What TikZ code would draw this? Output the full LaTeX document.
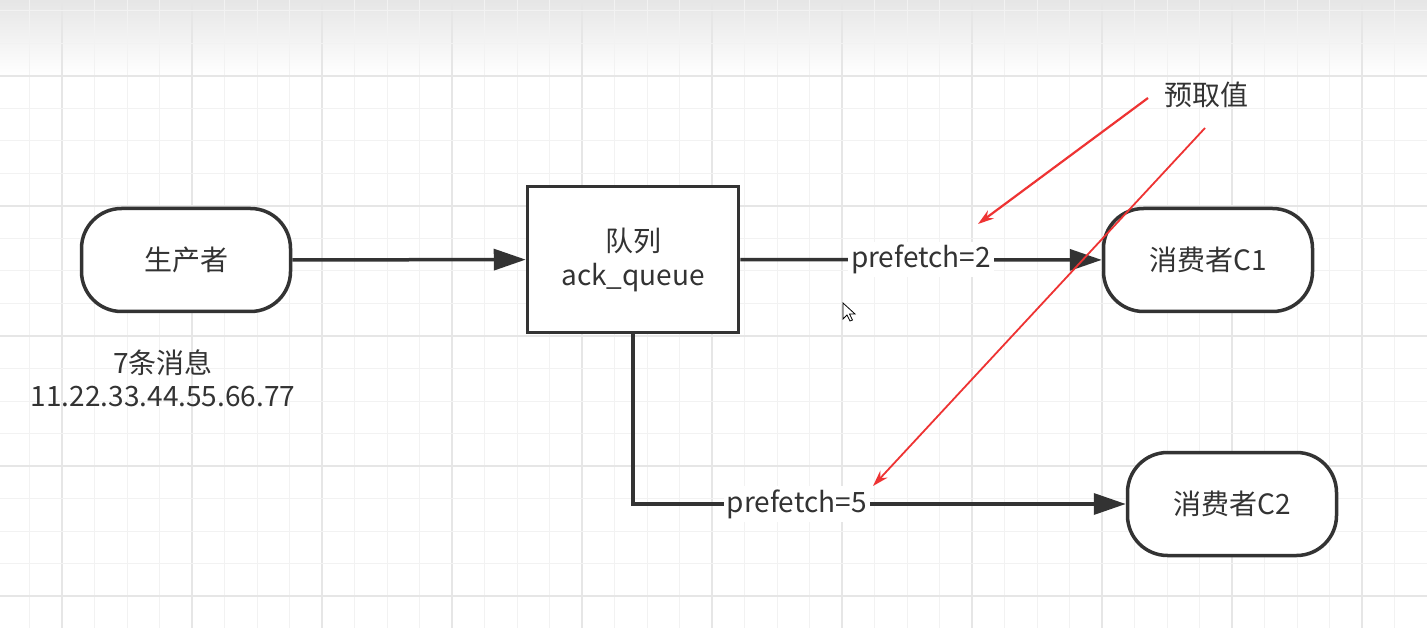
\documentclass[tikz,border=0pt]{standalone}
\usepackage{fontspec}
\setmainfont{Noto Sans CJK SC}
\usetikzlibrary{arrows.meta}
\definecolor{ink}{HTML}{333333}
\definecolor{minorgrid}{HTML}{F2F2F2}
\definecolor{majorgrid}{HTML}{E6E6E6}
\definecolor{redline}{HTML}{EE3333}
\tikzset{
  term/.style={draw=ink, line width=3.5pt, rounded corners=40pt, fill=white,
    minimum width=209pt, minimum height=103pt, text=ink, font=\fontsize{28}{33}\selectfont},
  qbox/.style={draw=ink, line width=3.5pt, fill=white,
    minimum width=211pt, minimum height=146pt, text=ink, align=center, font=\fontsize{28}{34}\selectfont},
  conn/.style={draw=ink, line width=3.5pt, -{Triangle[length=32pt,width=21pt]}},
  lbl/.style={fill=white, text=ink, inner sep=3pt, font=\fontsize{28}{33}\selectfont},
  note/.style={text=ink, align=center, font=\fontsize{28}{33}\selectfont},
  redarrow/.style={draw=redline, line width=2.2pt, -{Stealth[length=16pt,width=10pt]}},
  cursorshape/.style={draw=black, fill=white, line width=0.8pt, line join=miter}
}
\begin{document}
\begin{tikzpicture}[x=1pt,y=-1pt]
\useasboundingbox (0,0) rectangle (1427,628);
\fill[white] (0,0) rectangle (1427,628);
\shade[top color=black!10, bottom color=white] (0,0) rectangle (1427,76);
% grid
\foreach \i in {0,...,43}{
  \pgfmathtruncatemacro{\m}{mod(\i,4)}
  \ifnum\m=1
    \draw[majorgrid, line width=1.2pt] ({29.5+32.5*\i},0) -- ({29.5+32.5*\i},628);
  \else
    \draw[minorgrid, line width=1pt] ({29.5+32.5*\i},0) -- ({29.5+32.5*\i},628);
  \fi
}
\foreach \j in {0,...,19}{
  \pgfmathtruncatemacro{\m}{mod(\j,4)}
  \ifnum\m=2
    \draw[majorgrid, line width=1.2pt] (0,{11+32.5*\j}) -- (1427,{11+32.5*\j});
  \else
    \draw[minorgrid, line width=1pt] (0,{11+32.5*\j}) -- (1427,{11+32.5*\j});
  \fi
}
% nodes
\node[term] (prod) at (186,260) {生产者};
\node[qbox] (q) at (633,259.5) {队列\\ack\_queue};
\node[term] (c1) at (1208,260) {消费者C1};
\node[term] (c2) at (1232,504) {消费者C2};
\node[note] (msg) at (163,378) {7条消息\\11.22.33.44.55.66.77};
% connectors
\draw[conn] (prod) -- (q);
\draw[conn] (q) -- node[lbl] (p2) {prefetch=2} (c1);
\draw[conn] (q.south) |- node[lbl, pos=0.666] (p5) {prefetch=5} (c2);
% annotation
\node[text=ink, font=\fontsize{28}{33}\selectfont] (pre) at (1206,95) {预取值};
\coordinate (r1s) at (1148,98);
\coordinate (r1e) at (978,224);
\coordinate (r2s) at (1205,128);
\coordinate (r2e) at (873,486);
\draw[redarrow] (r1s) -- (r1e);
\draw[redarrow, line width=1.8pt] (r2s) -- (r2e);
% mouse cursor
\draw[cursorshape] (843,303) -- (843,319) -- (847,315) -- (850,321) -- (852.5,320) -- (849.5,314) -- (855,314) -- cycle;
\end{tikzpicture}
\end{document}
